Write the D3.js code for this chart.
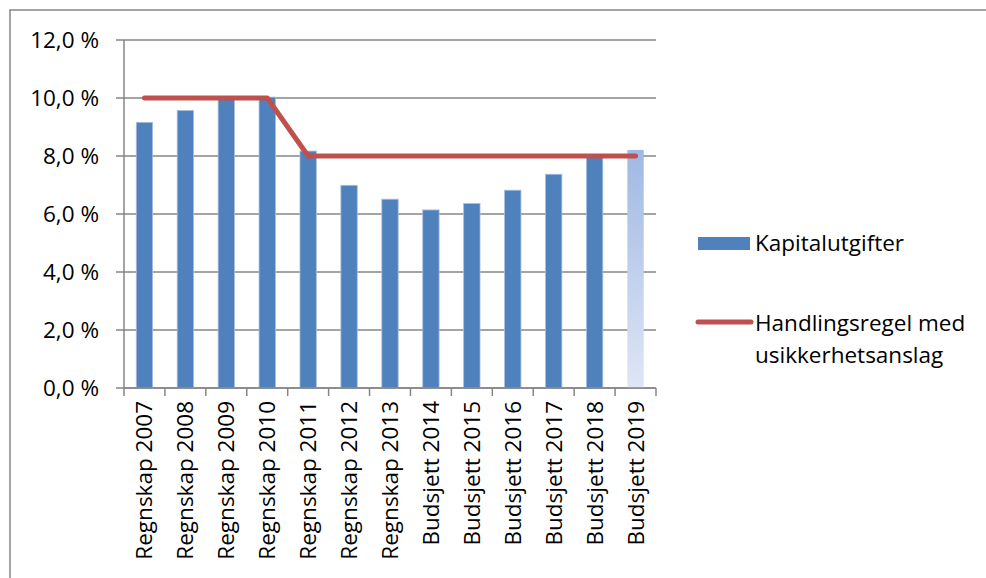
<!DOCTYPE html>
<html>
<head>
<meta charset="utf-8">
<script src="https://cdnjs.cloudflare.com/ajax/libs/d3/7.8.5/d3.min.js"></script>
<style>
  body { margin: 0; background: #fff; }
  svg text { font-family: "Open Sans", Lato, sans-serif; fill: #000; }
</style>
</head>
<body>
<svg id="chart" width="986" height="578"></svg>
<script>
var categories = ["Regnskap 2007", "Regnskap 2008", "Regnskap 2009", "Regnskap 2010", "Regnskap 2011",
  "Regnskap 2012", "Regnskap 2013", "Budsjett 2014", "Budsjett 2015", "Budsjett 2016",
  "Budsjett 2017", "Budsjett 2018", "Budsjett 2019"];
var kapitalutgifter = [9.16, 9.57, 10.0, 10.03, 8.17, 6.99, 6.51, 6.14, 6.36, 6.82, 7.37, 8.02, 8.21];
var handlingsregel = [10, 10, 10, 10, 8, 8, 8, 8, 8, 8, 8, 8, 8];
var yTicks = [0, 2, 4, 6, 8, 10, 12];
var legendLabels = ["Kapitalutgifter", "Handlingsregel med usikkerhetsanslag"];

var svg = d3.select("#chart");
var plotLeft = 124, plotRight = 656, plotTop = 40, plotBottom = 388;
var fs = "22.5px";

// outer frame
svg.append("rect").attr("x", 10).attr("y", 10).attr("width", 1000).attr("height", 600)
  .attr("fill", "none").attr("stroke", "#868686").attr("stroke-width", 1.5);

var x = d3.scaleBand().domain(categories).range([plotLeft, plotRight]).paddingInner(0.6).paddingOuter(0.3);
var xc = d3.scaleBand().domain(categories).range([plotLeft, plotRight]);
var y = d3.scaleLinear().domain([0, 12]).range([plotBottom, plotTop]);

var defs = svg.append("defs");
var grad = defs.append("linearGradient").attr("id", "fade").attr("x1", 0).attr("y1", 0).attr("x2", 0).attr("y2", 1);
grad.append("stop").attr("offset", "0%").attr("stop-color", "#9FB8E4");
grad.append("stop").attr("offset", "100%").attr("stop-color", "#DFE6F5");

// gridlines + y axis
svg.append("g").selectAll("line").data(yTicks).enter().append("line")
  .attr("x1", plotLeft - 8).attr("x2", plotRight)
  .attr("y1", function (d) { return y(d); }).attr("y2", function (d) { return y(d); })
  .attr("stroke", "#868686").attr("stroke-width", 1.5);
svg.append("line").attr("x1", plotLeft).attr("x2", plotLeft).attr("y1", plotTop).attr("y2", plotBottom)
  .attr("stroke", "#868686").attr("stroke-width", 1.5);
svg.append("g").selectAll("text").data(yTicks).enter().append("text")
  .attr("x", 99).attr("y", function (d) { return y(d) + 8; })
  .attr("text-anchor", "end").style("font-size", fs)
  .text(function (d) { return d3.format(".1f")(d).replace(".", ",") + " %"; });

// bars
svg.append("g").selectAll("rect").data(kapitalutgifter).enter().append("rect")
  .attr("x", function (d, i) { return x(categories[i]); })
  .attr("width", x.bandwidth())
  .attr("y", function (d) { return y(d); })
  .attr("height", function (d) { return y(0) - y(d); })
  .attr("fill", function (d, i) { return i == categories.length - 1 ? "url(#fade)" : "#4F81BD"; })
  .attr("stroke", function (d, i) { return i == categories.length - 1 ? "none" : "#A7BEDE"; })
  .attr("stroke-width", 0.8);

// x axis
svg.append("line").attr("x1", plotLeft).attr("x2", plotRight).attr("y1", plotBottom).attr("y2", plotBottom)
  .attr("stroke", "#868686").attr("stroke-width", 1.5);
svg.append("g").selectAll("line").data(categories.concat(["end"])).enter().append("line")
  .attr("x1", function (d, i) { return plotLeft + i * xc.bandwidth(); })
  .attr("x2", function (d, i) { return plotLeft + i * xc.bandwidth(); })
  .attr("y1", plotBottom).attr("y2", plotBottom + 8)
  .attr("stroke", "#868686").attr("stroke-width", 1.5);
svg.append("g").selectAll("text").data(categories).enter().append("text")
  .attr("transform", function (d) { return "translate(" + (xc(d) + xc.bandwidth() / 2 + 8) + "," + 401 + ") rotate(-90)"; })
  .attr("text-anchor", "end").style("font-size", fs)
  .text(function (d) { return d; });

// line
var line = d3.line()
  .x(function (d, i) { return xc(categories[i]) + xc.bandwidth() / 2; })
  .y(function (d) { return y(d); });
svg.append("path").datum(handlingsregel).attr("d", line)
  .attr("fill", "none").attr("stroke", "#C0504D").attr("stroke-width", 5)
  .attr("stroke-linecap", "round").attr("stroke-linejoin", "round");

// legend
svg.append("rect").attr("x", 698).attr("y", 237).attr("width", 52).attr("height", 13).attr("fill", "#4F81BD");
svg.append("text").attr("x", 755).attr("y", 251).style("font-size", fs).text(legendLabels[0]);
svg.append("line").attr("x1", 698).attr("x2", 751).attr("y1", 322).attr("y2", 322)
  .attr("stroke", "#C0504D").attr("stroke-width", 5).attr("stroke-linecap", "round");
var words = legendLabels[1].split(" ");
svg.append("text").attr("x", 755).attr("y", 331).style("font-size", fs).text(words.slice(0, 2).join(" "));
svg.append("text").attr("x", 755).attr("y", 363).style("font-size", fs).text(words.slice(2).join(" "));
</script>
</body>
</html>
